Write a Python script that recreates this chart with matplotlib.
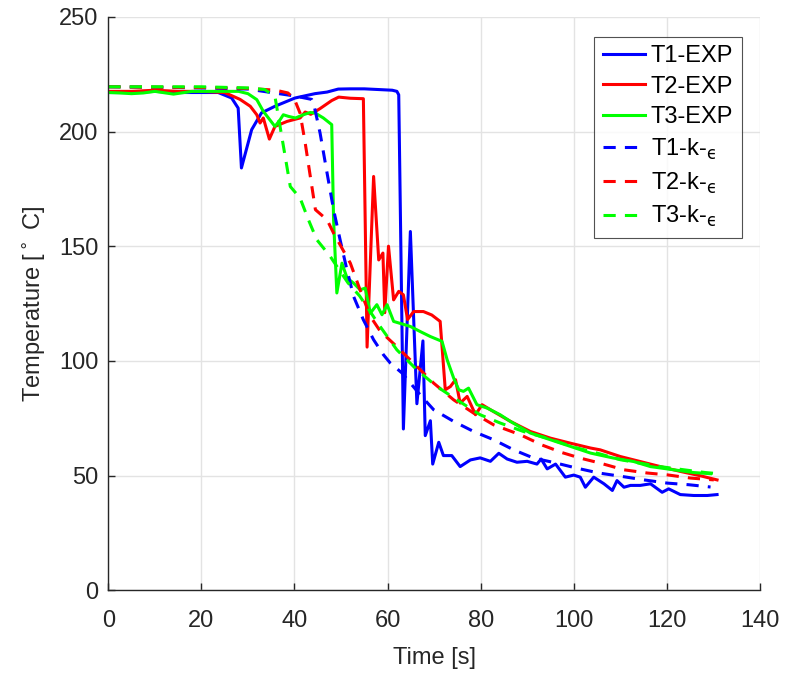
import numpy as np
import matplotlib
matplotlib.use("Agg")
import matplotlib.pyplot as plt

plt.rcParams['font.family'] = ['Liberation Sans', 'DejaVu Sans']
plt.rcParams['mathtext.fontset'] = 'dejavusans'

t1_exp = [0, 5, 10, 15, 20, 23.6, 26.5, 27.9, 28.6, 30.8, 32.9, 35.8, 40.1, 44.4, 47, 49.4, 52, 55, 58, 61,
          62.0, 62.4, 63.4, 64.9, 66.3, 67.6, 68.1, 69.2, 69.7, 71, 72, 73.8, 75.6, 77.8, 79.9, 82.1, 83.9,
          85.7, 87.8, 90, 92.1, 93, 94.3, 96.1, 98.2, 100, 101.4, 102.5, 104.3, 106.5, 108.3, 109.3, 110.8,
          112.2, 114.3, 116.5, 119, 120.4, 122.9, 125.8, 128.7, 130.8]
T1_exp = [217, 217, 217.5, 217, 217, 217, 214.6, 210.2, 184.1, 200.8, 208.1, 211, 214.6, 216.5, 217.2, 218.5,
          218.6, 218.6, 218.3, 218, 217.5, 216, 70.3, 156.4, 81.3, 108.7, 67.4, 73.9, 55, 64.5, 58.7, 58.7,
          53.9, 56.8, 57.7, 56.2, 59.7, 57.2, 55.8, 56.2, 55, 57.2, 52.9, 55, 49.3, 50.2, 49.3, 44.9, 49.3,
          46.4, 43.5, 47.8, 44.9, 45.7, 45.7, 46.4, 42.7, 44.2, 41.7, 41.3, 41.3, 41.7]

t2_exp = [0, 5, 10, 15, 20, 25, 28.3, 30.5, 31.9, 32.6, 33.3, 34.6, 35.8, 38.4, 41.2, 42.3, 43.5, 45.5, 48,
          49.5, 52, 54.8, 55.6, 57, 58.1, 59, 59.4, 60.2, 61.3, 62.4, 63.4, 64.3, 65.6, 67.7, 69.5, 71.3,
          72.4, 73.5, 74.6, 75.6, 77.1, 78.9, 80.3, 82.1, 86.4, 90.7, 95, 99.3, 103.6, 105.7, 110, 114.3,
          118.6, 122.9, 127.2, 130.8]
T2_exp = [217.5, 217.5, 218, 217.5, 217.5, 217, 214, 211, 207.3, 203.7, 205.9, 196.7, 202.2, 204.4, 205.9,
          208.5, 207.5, 210, 213.5, 215, 214.5, 214.3, 106, 180.4, 144, 147, 121, 150, 126.6, 130.3, 128.8,
          118, 121.5, 121.5, 120, 117.2, 87.4, 88.8, 91.8, 81.6, 84.5, 76.5, 80.9, 78.7, 73.6, 69.2, 66.3,
          64.1, 62, 61.2, 58.3, 56.1, 53.9, 51.8, 49.9, 48.1]

t3_exp = [0, 2.5, 5, 7.5, 10, 14, 18, 25, 28, 30, 31.9, 33.3, 35.8, 36.9, 37.6, 38.7, 40.2, 41.9, 43.4, 44.5,
          46.2, 48, 48.4, 49.1, 50.2, 51.3, 52.7, 54.1, 55.2, 56.3, 57.7, 58.8, 59.9, 61.3, 64.9, 67, 69.2,
          71.7, 72.8, 74.2, 75.3, 76.3, 77.4, 79.2, 81.4, 84.2, 86.4, 90.7, 95, 99.3, 103.6, 108.6, 112.9,
          116.5, 121.5, 125.8, 129.4]
T3_exp = [217, 216.8, 216.5, 216.8, 217.5, 216.3, 217.5, 217.5, 217.5, 216.5, 213.9, 208.8, 202.2, 205.1,
          207.3, 206.6, 205.9, 207.3, 208.3, 208, 205.9, 203, 161.5, 129.6, 142.6, 136.1, 133.9, 131, 131.7,
          120.8, 124.5, 120.1, 124.5, 117.2, 115, 112.8, 110.6, 108.5, 100.5, 92.5, 87.4, 86.7, 88.1, 80.9,
          79.4, 76.5, 73.6, 68.5, 65.6, 62.7, 59.8, 57.6, 56.1, 53.9, 52.5, 51.3, 50.8]

# k-epsilon simulation
t1_ke = [0, 10, 20, 30, 35, 40, 43.7, 44.1, 45.5, 47, 48.4, 49.8, 51.1, 52.7, 54.8, 57, 59.1, 60.6, 63.1,
         67, 69.9, 74.2, 78.5, 82.8, 87.1, 91.4, 95.7, 100.7, 105.4, 110.4, 115.1, 120.1, 124.7, 129.4]
T1_ke = [219.5, 219.3, 219, 218.5, 217, 215.5, 214, 212.4, 199.3, 181.9, 165.9, 152.8, 141.2, 128.1, 117.9,
         109.2, 102.7, 99, 94.7, 85.2, 78.7, 73.6, 69.2, 65.6, 61.2, 57.6, 55.7, 53.2, 51.1, 49.6, 48.1,
         46.7, 46, 45]

t2_ke = [0, 10, 20, 30, 36, 38.6, 40, 41.2, 42.3, 43.4, 44.5, 47, 48.4, 49.8, 52, 54.1, 56.3, 58.4, 61.3,
         65.6, 69.9, 74.2, 78.5, 82.8, 88.5, 93.2, 97.5, 101.4, 105.7, 110.8, 115.8, 120.1, 125.1, 130.1]
T2_ke = [219.5, 219.3, 219.2, 218.8, 218, 216.8, 214, 208, 195, 180.4, 165.9, 161.5, 155.7, 150.6, 142.6,
         130.9, 119.4, 113, 107.5, 99, 90.3, 83, 77.2, 72.1, 67.8, 63.3, 60, 57.6, 55.4, 52.5, 51.1, 50.3,
         48.9, 48.1]

t3_ke = [0, 10, 20, 30, 33.6, 35.8, 36.9, 38, 39.1, 41.2, 43, 44.8, 47.7, 49.1, 51.5, 54, 58.4, 62, 66.3,
         70.6, 74.9, 79.9, 84.2, 89.2, 94.3, 100, 105, 110, 114.3, 118.6, 123.7, 128.3, 130]
T3_ke = [219.5, 219.5, 219.5, 219, 218.3, 215.3, 202.2, 189.1, 176, 171, 161.5, 152.8, 145.5, 141.2, 134,
         128.3, 115, 104.8, 96.1, 88.8, 83, 76.5, 72.9, 69.2, 66.3, 62.4, 59.8, 56.9, 55.4, 53.9, 52.5,
         51.3, 51]

fig = plt.figure(figsize=(7.85, 6.73), dpi=100)
ax = fig.add_axes([0.138, 0.123, 0.830, 0.852])

lw = 2.2
ax.plot(t1_exp, T1_exp, color='#0000ff', lw=lw, label='T1-EXP')
ax.plot(t2_exp, T2_exp, color='#ff0000', lw=lw, label='T2-EXP')
ax.plot(t3_exp, T3_exp, color='#00ff00', lw=lw, label='T3-EXP')
eps = '$_{\\mathrm{\u03f5}}$'
ax.plot(t1_ke, T1_ke, color='#0000ff', lw=lw, dashes=(4, 3), label='T1-k-' + eps)
ax.plot(t2_ke, T2_ke, color='#ff0000', lw=lw, dashes=(4, 3), label='T2-k-' + eps)
ax.plot(t3_ke, T3_ke, color='#00ff00', lw=lw, dashes=(4, 3), label='T3-k-' + eps)

ax.set_xlim(0, 140)
ax.set_ylim(0, 250)
ax.set_xticks(np.arange(0, 141, 20))
ax.set_yticks(np.arange(0, 251, 50))
ax.grid(True, color='#e3e3e3', lw=1)
ax.set_axisbelow(True)
for s in ['top', 'right']:
    ax.spines[s].set_visible(False)
for s in ['left', 'bottom']:
    ax.spines[s].set_color('#262626')
    ax.spines[s].set_linewidth(1.0)
ax.tick_params(direction='in', length=5, width=1, color='#262626', labelcolor='#262626', labelsize=17)
ax.tick_params(axis='x', pad=14)
ax.tick_params(axis='y', pad=7)

ax.set_xlabel('Time [s]', fontsize=17, color='#262626', labelpad=11)
ax.set_ylabel(r'Temperature [$^\circ$ C]', fontsize=17, color='#262626', labelpad=8)

leg = ax.legend(loc='upper right', bbox_to_anchor=(0.972, 0.965), borderaxespad=0, fontsize=17,
                frameon=True, fancybox=False, handlelength=1.8, labelspacing=0.36, handletextpad=0.25,
                borderpad=0.35)
leg.get_frame().set_edgecolor('#262626')
leg.get_frame().set_linewidth(0.8)
for txt in leg.get_texts():
    txt.set_color('black')

fig.savefig('out.png', dpi=100)
